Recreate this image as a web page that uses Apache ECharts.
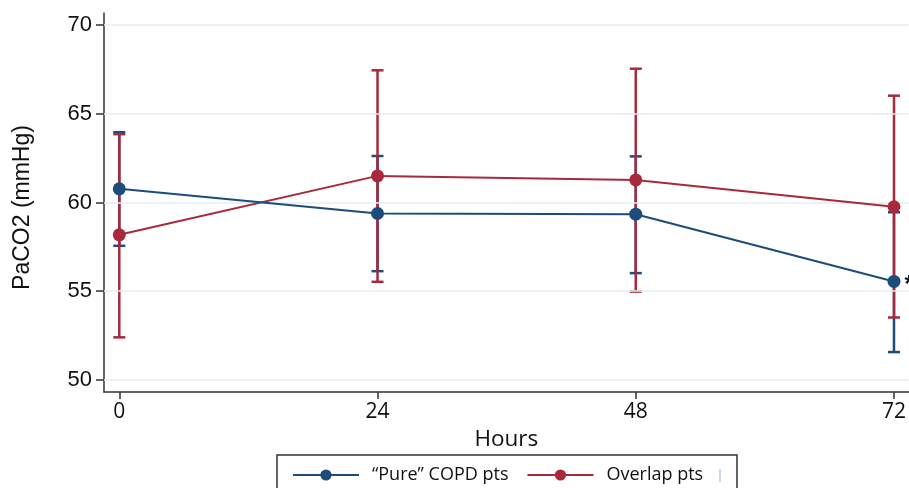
<!DOCTYPE html>
<html>
<head>
<meta charset="utf-8">
<script src="https://cdn.jsdelivr.net/npm/echarts@6/dist/echarts.min.js"></script>
<style>
html,body{margin:0;padding:0;background:#fff;}
#c{width:909px;height:488px;}
</style>
</head>
<body>
<div id="c"></div>
<script>
// ---- data ----
var hours = [0, 24, 48, 72];
var yTicks = [50, 55, 60, 65, 70];
var pureName = '\u201CPure\u201D COPD pts';
var overlapName = 'Overlap pts';
var pureMean = [60.77, 59.38, 59.34, 55.55];
var pureLow = [57.56, 56.13, 56.02, 51.57];
var pureHigh = [63.96, 62.62, 62.60, 59.45];
var overlapMean = [58.18, 61.50, 61.27, 59.76];
var overlapLow = [52.40, 55.53, 54.98, 53.52];
var overlapHigh = [63.85, 67.45, 67.54, 66.02];
var starIndex = 3;

var blue = '#1b4c7a';
var red = '#a7293b';

function pairs(xs, ys) { return xs.map(function (x, i) { return [x, ys[i]]; }); }
function bars(xs, lo, hi) { return xs.map(function (x, i) { return [x, lo[i], hi[i]]; }); }

function errRender(color, capHalf) {
  return function (params, api) {
    var x = api.value(0);
    var p1 = api.coord([x, api.value(1)]);
    var p2 = api.coord([x, api.value(2)]);
    var st = { stroke: color, lineWidth: 2.5 };
    return {
      type: 'group',
      children: [
        { type: 'line', shape: { x1: p1[0], y1: p1[1], x2: p2[0], y2: p2[1] }, style: st },
        { type: 'line', shape: { x1: p1[0] - capHalf, y1: p1[1], x2: p1[0] + capHalf, y2: p1[1] }, style: st },
        { type: 'line', shape: { x1: p2[0] - capHalf, y1: p2[1], x2: p2[0] + capHalf, y2: p2[1] }, style: st }
      ]
    };
  };
}

var pureData = pairs(hours, pureMean).map(function (d, i) {
  if (i === starIndex) {
    return { value: d, label: { show: true, formatter: '*', position: 'right', distance: 4, offset: [0, 4], fontSize: 24, fontWeight: 'bold', color: '#111', fontFamily: 'Liberation Sans' } };
  }
  return d;
});

var chart = echarts.init(document.getElementById('c'), null, { renderer: 'canvas' });
chart.setOption({
  animation: false,
  backgroundColor: '#fff',
  grid: { left: 104, right: 0, top: 13, bottom: 96, containLabel: false },
  xAxis: {
    type: 'value', min: -1.42, max: 73.37,
    name: 'Hours', nameLocation: 'middle', nameGap: 26,
    nameTextStyle: { fontFamily: 'Open Sans', fontSize: 22.5, color: '#111' },
    axisLine: { show: true, onZero: false, lineStyle: { color: '#333', width: 1.5 } },
    axisTick: { show: true, length: 7, customValues: hours, lineStyle: { color: '#333', width: 1.5 } },
    axisLabel: { customValues: hours, margin: 10, fontFamily: 'Open Sans', fontSize: 21, color: '#111' },
    splitLine: { show: false }
  },
  yAxis: {
    type: 'value', min: 49.32, max: 70.68,
    axisLine: { show: true, onZero: false, lineStyle: { color: '#333', width: 1.5 } },
    axisTick: { show: true, length: 8, customValues: yTicks, lineStyle: { color: '#333', width: 1.5 } },
    axisLabel: { customValues: yTicks, margin: 12, fontFamily: 'Liberation Sans', fontSize: 22, color: '#111' },
    splitLine: { show: false }
  },
  legend: {
    left: 287, top: 461, itemWidth: 66, itemHeight: 14, itemGap: 18,
    textStyle: { fontFamily: 'Open Sans', fontSize: 18, color: '#111', padding: [0, 0, 0, 8] },
    data: [pureName, overlapName]
  },
  graphic: [
    { type: 'text', x: 23, y: 207.5, rotation: Math.PI / 2, silent: true,
      style: { text: 'PaCO2 (mmHg)', fontFamily: 'Liberation Sans', fontSize: 23, fill: '#111', align: 'center', verticalAlign: 'middle' } },
    { type: 'rect', shape: { x: 277, y: 455, width: 460, height: 60 }, style: { fill: 'none', stroke: '#333', lineWidth: 1.5 }, silent: true },
    { type: 'line', shape: { x1: 720, y1: 469, x2: 720, y2: 482 }, style: { stroke: '#b8cde0', lineWidth: 1.5 }, silent: true }
  ],
  series: [
    {
      type: 'line', name: 'grid', data: [], silent: true,
      markLine: {
        silent: true, symbol: ['none', 'none'], label: { show: false },
        lineStyle: { color: '#e4eef3', width: 1.5, type: 'solid' },
        data: yTicks.map(function (v) { return { yAxis: v }; })
      }
    },
    {
      type: 'custom', name: pureName + ' ci', renderItem: errRender(blue, 6),
      data: bars(hours, pureLow, pureHigh), encode: { x: 0, y: [1, 2] }, z: 3, silent: true
    },
    {
      type: 'custom', name: overlapName + ' ci', renderItem: errRender(red, 6),
      data: bars(hours, overlapLow, overlapHigh), encode: { x: 0, y: [1, 2] }, z: 4, silent: true
    },
    {
      type: 'line', name: overlapName, data: pairs(hours, overlapMean), z: 5,
      symbol: 'circle', symbolSize: 13, showSymbol: true,
      lineStyle: { color: red, width: 2 }, itemStyle: { color: red }
    },
    {
      type: 'line', name: pureName, data: pureData, z: 6,
      symbol: 'circle', symbolSize: 13, showSymbol: true,
      lineStyle: { color: blue, width: 2 }, itemStyle: { color: blue }
    }
  ]
});
</script>
</body>
</html>
